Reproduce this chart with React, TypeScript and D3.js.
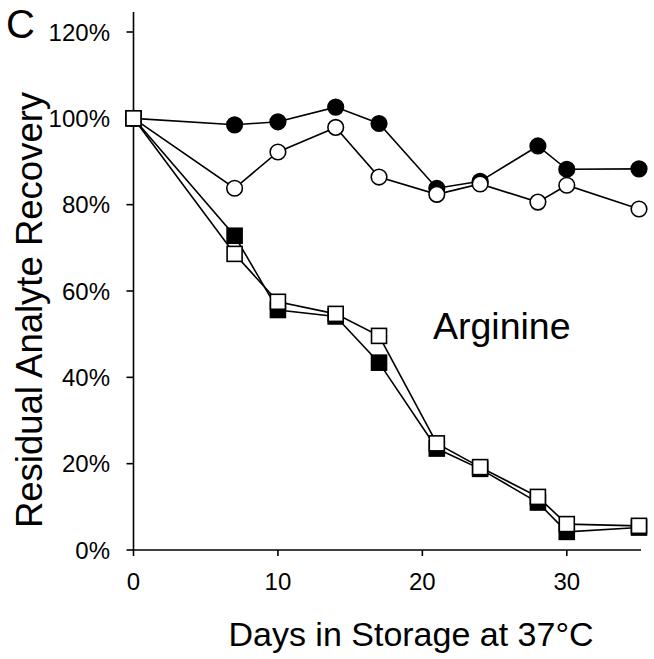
import React from "react";
import * as d3 from "d3";

const days = [0, 7, 10, 14, 17, 21, 24, 28, 30, 35];
const filledCircle = [100, 98.5, 99.2, 102.6, 98.8, 83.8, 85.4, 93.6, 88.2, 88.3];
const openCircle = [100, 83.8, 92.2, 97.9, 86.4, 82.4, 84.8, 80.6, 84.5, 79.0];
const filledSquare = [100, 72.8, 55.6, 54.1, 43.4, 23.5, 18.8, 11.0, 4.2, 5.2];
const openSquare = [100, 68.6, 57.5, 54.7, 49.6, 24.7, 19.2, 12.3, 6.0, 5.6];
const yTicks = [0, 20, 40, 60, 80, 100, 120];
const xTicks = [0, 10, 20, 30];

const FONT = "'Liberation Sans', Arial, Helvetica, sans-serif";

export default function App() {
  const x = d3.scaleLinear().domain([0, 35]).range([133.5, 639]);
  const y = d3.scaleLinear().domain([0, 120]).range([550, 32]);
  const line = d3
    .line<[number, number]>()
    .x((d) => x(d[0]))
    .y((d) => y(d[1]));

  const series = [
    { vals: filledCircle, shape: "circle", fill: "#000" },
    { vals: openCircle, shape: "circle", fill: "#fff" },
    { vals: filledSquare, shape: "square", fill: "#000" },
    { vals: openSquare, shape: "square", fill: "#fff" },
  ];
  const axisX0 = x(0);
  const axisY0 = y(0);

  return (
    <svg
      width={654}
      height={659}
      style={{ position: "absolute", left: 0, top: 0, background: "#fff" }}
      fontFamily={FONT}
    >
      <rect x={0} y={0} width={654} height={659} fill="#fff" />
      {/* axes */}
      <line x1={axisX0} x2={axisX0} y1={12} y2={axisY0} stroke="#000" strokeWidth={1.6} />
      <line x1={axisX0} x2={x(35) + 2} y1={axisY0} y2={axisY0} stroke="#000" strokeWidth={1.6} />
      {yTicks.map((t) => (
        <g key={"y" + t}>
          <line x1={axisX0 - 7} x2={axisX0} y1={y(t)} y2={y(t)} stroke="#000" strokeWidth={1.6} />
          <text x={110} y={y(t) + 8.5} textAnchor="end" fontSize={24} fill="#000">
            {t + "%"}
          </text>
        </g>
      ))}
      {xTicks.map((t) => (
        <g key={"x" + t}>
          <line x1={x(t)} x2={x(t)} y1={axisY0} y2={axisY0 + 6} stroke="#000" strokeWidth={1.6} />
          <text x={x(t)} y={590} textAnchor="middle" fontSize={24} fill="#000">
            {t}
          </text>
        </g>
      ))}
      {/* series */}
      {series.map((s, i) => {
        const pts: [number, number][] = days.map((d, j) => [d, s.vals[j]]);
        return (
          <g key={i}>
            <path d={line(pts) || ""} fill="none" stroke="#000" strokeWidth={1.6} />
            {pts.map((p, j) =>
              s.shape === "circle" ? (
                <circle key={j} cx={x(p[0])} cy={y(p[1])} r={7.8} fill={s.fill} stroke="#000" strokeWidth={1.6} />
              ) : (
                <rect
                  key={j}
                  x={x(p[0]) - 7.5}
                  y={y(p[1]) - 7.5}
                  width={15}
                  height={15}
                  fill={s.fill}
                  stroke="#000"
                  strokeWidth={1.6}
                />
              )
            )}
          </g>
        );
      })}
      {/* labels */}
      <text x={6} y={38} fontSize={40} fill="#000">C</text>
      <text x={433} y={339} fontSize={37.5} fill="#000">Arginine</text>
      <text x={411} y={646} textAnchor="middle" fontSize={34} fill="#000">
        Days in Storage at 37°C
      </text>
      <text
        transform={`translate(42,310) rotate(-90)`}
        textAnchor="middle"
        fontSize={36.5}
        fill="#000"
      >
        Residual Analyte Recovery
      </text>
    </svg>
  );
}
